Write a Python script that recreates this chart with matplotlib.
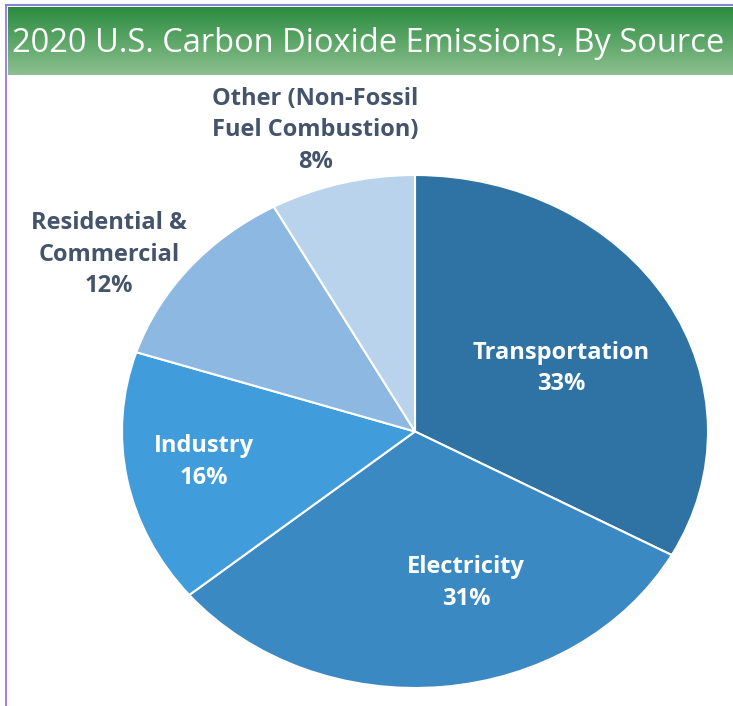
import matplotlib.pyplot as plt
import numpy as np

# data
sources = ['Transportation', 'Electricity', 'Industry', 'Residential &\nCommercial', 'Other (Non-Fossil\nFuel Combustion)']
shares = [33, 31, 16, 12, 8]
colors = ['#2F73A5', '#3A89C3', '#409CDA', '#8CB8E1', '#B9D3EC']
label_colors = ['white', 'white', 'white', '#44546A', '#44546A']
# label centres in pie units (x / rx, y / ry)
label_pos = [(0.50, 0.245), (0.175, -0.59), (-0.72, -0.12), (-1.045, 0.69), (-0.34, 1.175)]

W, H = 733, 706
fig = plt.figure(figsize=(W / 100, H / 100), dpi=100)

# green banner with gradient
ban = fig.add_axes([8 / W, 1 - 75 / H, 1 - 8 / W, 68 / H])
grad = np.linspace(0, 1, 100).reshape(-1, 1)
top = np.array([0.17, 0.55, 0.25])
bot = np.array([0.55, 0.75, 0.56])
img = top + (bot - top) * grad[:, :, None]
ban.imshow(img, aspect='auto', extent=[0, 1, 0, 1])
ban.axis('off')
ban.text(0.497, 0.47, '2020 U.S. Carbon Dioxide Emissions, By Source', color='white',
         fontsize=23.5, family='Open Sans', ha='center', va='center')

# border lines
fig.add_artist(plt.Line2D([6 / W, 6 / W], [0, 1 - 5 / H], color='#8A6CF0', lw=1.2))
fig.add_artist(plt.Line2D([6 / W, 1], [1 - 5 / H, 1 - 5 / H], color='#8A80D8', lw=1.5))

# pie (slightly elliptical like the source)
cx, cy, rx, ry = 415, 431.5, 293, 256.5
ax = fig.add_axes([(cx - rx) / W, (H - cy - ry) / H, 2 * rx / W, 2 * ry / H])
ax.pie(shares, colors=colors, startangle=90, counterclock=False,
       wedgeprops=dict(edgecolor='white', linewidth=1.5))
ax.set_aspect('auto')
ax.set_xlim(-1, 1)
ax.set_ylim(-1, 1)

for name, val, (x, y), c in zip(sources, shares, label_pos, label_colors):
    ax.text(x, y, f'{name}\n{val}%', ha='center', va='center', color=c,
            fontsize=17, fontweight='bold', family='Open Sans',
            linespacing=1.42, clip_on=False)

fig.savefig('out.png', dpi=100)
